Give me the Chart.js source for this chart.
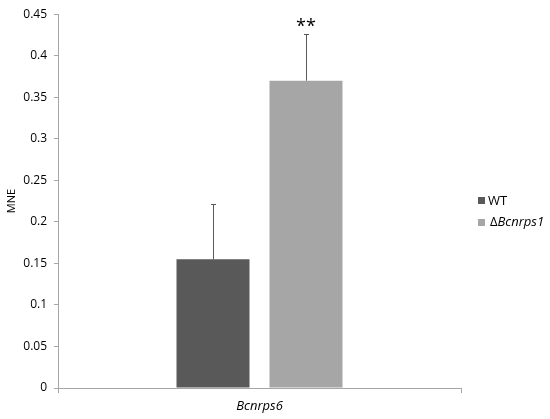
<!DOCTYPE html>
<html><head><meta charset="utf-8">
<script src="https://cdn.jsdelivr.net/npm/chart.js@4/dist/chart.umd.min.js"></script>
<style>
html,body{margin:0;padding:0;background:#fff;}
#wrap{position:relative;width:550px;height:419px;overflow:hidden;}
#legend{position:absolute;left:478px;top:191px;font-family:"Open Sans",sans-serif;font-size:13px;color:#000;}
.li{position:absolute;white-space:nowrap;}
.sw{position:absolute;width:7px;height:7px;}
</style></head>
<body><div id="wrap"><canvas id="c" width="550" height="419"></canvas>
<div id="legend">
 <div class="li" style="top:0"><span class="sw" style="left:0;top:6px;background:#595959"></span><span style="position:absolute;left:10px;top:0">WT</span></div>
 <div class="li" style="top:21px"><span class="sw" style="left:0;top:7px;background:#a6a6a6"></span><span style="position:absolute;left:12px;top:0">Δ<i>Bcnrps1</i></span></div>
</div></div>
<script>
const categories = ['Bcnrps6'];
const seriesNames = ['WT', 'ΔBcnrps1'];
const wtValues = [0.155];
const mutValues = [0.37];
const wtErrors = [0.066];
const mutErrors = [0.056];
const significance = ['', '**'];
const yTicks = [0, 0.05, 0.1, 0.15, 0.2, 0.25, 0.3, 0.35, 0.4, 0.45];

const errs = [wtErrors, mutErrors];
const errPlugin = {
  id: 'errbars',
  afterDatasetsDraw(chart) {
    const ctx = chart.ctx, y = chart.scales.y;
    chart.data.datasets.forEach((ds, i) => {
      const meta = chart.getDatasetMeta(i);
      meta.data.forEach((bar, j) => {
        const v = ds.data[j], e = errs[i][j];
        const yt = y.getPixelForValue(v + e), yb = y.getPixelForValue(v);
        ctx.save();
        ctx.strokeStyle = '#595959'; ctx.lineWidth = 1;
        ctx.beginPath();
        ctx.moveTo(Math.round(bar.x) + 0.5, yb);
        ctx.lineTo(Math.round(bar.x) + 0.5, yt);
        ctx.moveTo(Math.round(bar.x) - 2, Math.round(yt) + 0.5);
        ctx.lineTo(Math.round(bar.x) + 3, Math.round(yt) + 0.5);
        ctx.stroke();
        if (significance[i]) {
          ctx.fillStyle = '#000';
          ctx.font = '18px "Open Sans", sans-serif';
          ctx.textAlign = 'center'; ctx.textBaseline = 'alphabetic';
          ctx.fillText(significance[i], bar.x, yt - 2);
        }
        ctx.restore();
      });
    });
  }
};

new Chart(document.getElementById('c'), {
  type: 'bar',
  data: {
    labels: categories,
    datasets: [
      { label: seriesNames[0], data: wtValues, backgroundColor: '#595959' },
      { label: seriesNames[1], data: mutValues, backgroundColor: '#a6a6a6' }
    ]
  },
  options: {
    responsive: false,
    animation: false,
    events: [],
    categoryPercentage: 0.4615,
    barPercentage: 0.785,
    layout: { padding: { top: 8, right: 89, bottom: 0, left: 0 } },
    plugins: { legend: { display: false }, tooltip: { enabled: false } },
    scales: {
      x: {
        grid: { display: true, drawOnChartArea: false, tickLength: 5, color: '#a6a6a6', offset: true },
        border: { color: '#a6a6a6' },
        ticks: { color: '#000', padding: 5, font: { family: '"Open Sans", sans-serif', size: 13, style: 'italic' } },
        afterFit(s) { s.height = 31; }
      },
      y: {
        min: 0, max: 0.45,
        afterBuildTicks(s) { s.ticks = yTicks.map(v => ({ value: v })); },
        grid: { display: true, drawOnChartArea: false, tickLength: 4, color: '#a6a6a6' },
        border: { color: '#a6a6a6' },
        ticks: { color: '#000', padding: 7, font: { family: '"Open Sans", sans-serif', size: 12 }, callback: v => String(v) },
        title: { display: true, text: 'MNE', color: '#000', padding: { top: 5, bottom: 0 }, font: { family: '"Open Sans", sans-serif', size: 11 } },
        afterFit(s) { s.width = 58; }
      }
    }
  },
  plugins: [errPlugin]
});
</script></body></html>
